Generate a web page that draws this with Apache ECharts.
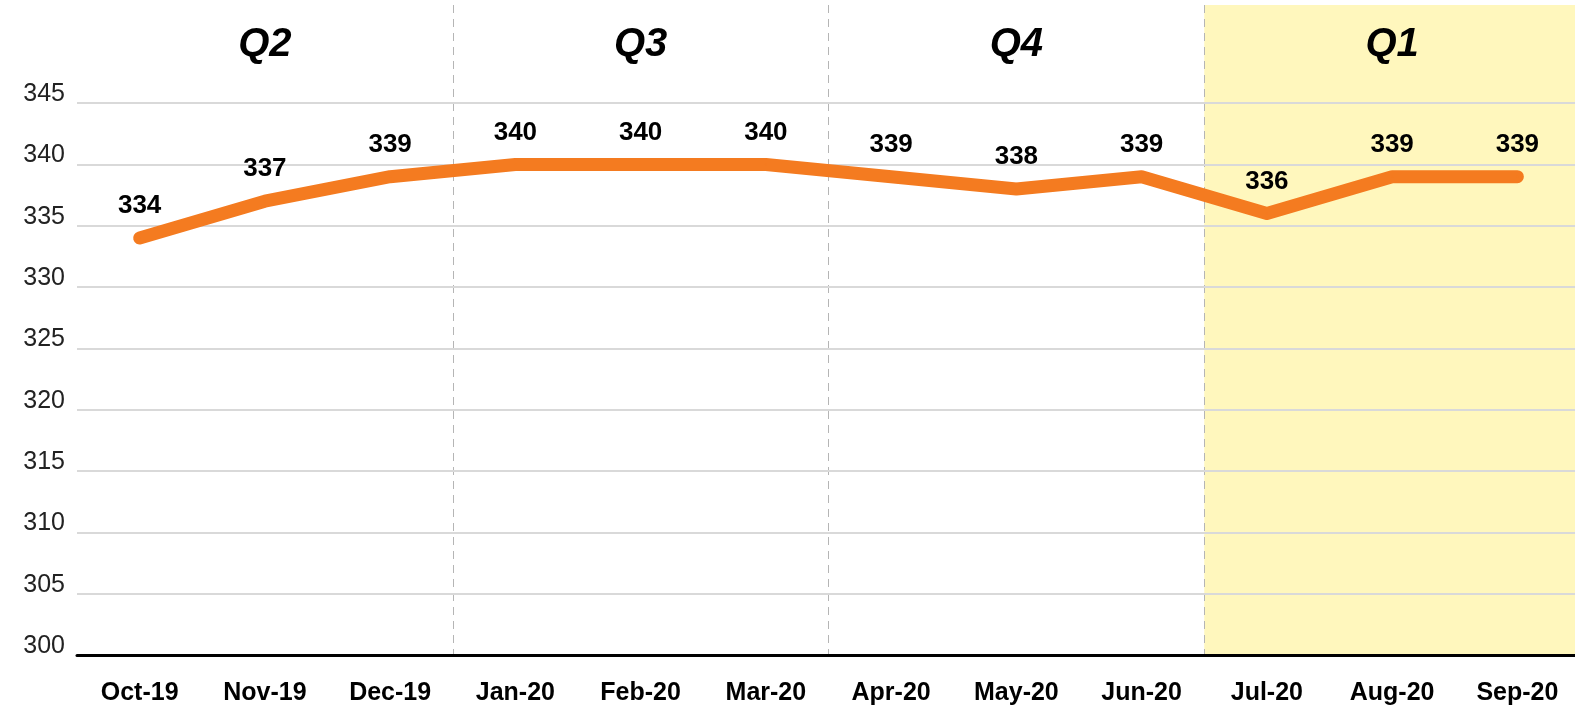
<!DOCTYPE html>
<html>
<head>
<meta charset="utf-8">
<style>
  html, body { margin: 0; padding: 0; background: #fff; }
  #chart { width: 1575px; height: 710px; }
</style>
<script src="https://cdn.jsdelivr.net/npm/echarts@6/dist/echarts.min.js"></script>
</head>
<body>
<div id="chart"></div>
<script>
// months on the bottom axis, quarters on the top band
const months = ['Oct-19', 'Nov-19', 'Dec-19', 'Jan-20', 'Feb-20', 'Mar-20',
                'Apr-20', 'May-20', 'Jun-20', 'Jul-20', 'Aug-20', 'Sep-20']
const values = [334, 337, 339, 340, 340, 340, 339, 338, 339, 336, 339, 339]
const quarters = ['Q2', 'Q3', 'Q4', 'Q1']

const SANS = "'Liberation Sans', Arial, sans-serif"
const ORANGE = '#f47b20'

// 300..350 get a tick each, plus the extent 353 on top -> hide the last two lines
const gridColors = []
for (let i = 0; i < 12; i++) gridColors.push(i < 10 ? '#d9d9d9' : 'rgba(0,0,0,0)')

const chart = echarts.init(document.getElementById('chart'))
chart.setOption({
  animation: false,
  backgroundColor: '#fff',
  // plot runs a few px past the right edge of the picture
  grid: {
    left: 77, width: 1503, top: 5, bottom: 55,
    containLabel: false, outerBoundsMode: 'none'
  },
  xAxis: [
    {
      type: 'category',
      data: months,
      boundaryGap: true,
      axisLine: { lineStyle: { color: '#000', width: 3 } },
      axisTick: { length: 12, lineStyle: { color: '#000', width: 3 } },
      axisLabel: {
        interval: 0, margin: 26, color: '#000',
        fontFamily: SANS, fontWeight: 'bold', fontSize: 25
      },
      splitLine: { show: false },
      z: 3
    },
    {
      // quarter band: labels, dashed separators, highlighted Q1
      type: 'category',
      data: quarters,
      position: 'top',
      boundaryGap: true,
      axisLine: { show: false },
      axisTick: { show: false },
      axisLabel: {
        inside: true, margin: 20, color: '#000',
        fontFamily: SANS, fontWeight: 'bold', fontStyle: 'italic', fontSize: 40
      },
      splitLine: {
        show: true, interval: 0,
        lineStyle: {
          type: [8, 6], width: 1,
          color: ['rgba(0,0,0,0)', '#b5b5b5', '#b5b5b5', '#b5b5b5', 'rgba(0,0,0,0)']
        }
      },
      splitArea: {
        show: true, interval: 0,
        areaStyle: { color: ['rgba(0,0,0,0)', 'rgba(0,0,0,0)', 'rgba(0,0,0,0)', '#fff7bd'] }
      },
      z: 0
    }
  ],
  yAxis: {
    type: 'value',
    min: 300,
    max: 353,
    interval: 5,
    axisLine: { show: false },
    axisTick: { show: false },
    axisLabel: {
      margin: 12, color: '#222', fontFamily: SANS, fontSize: 25,
      verticalAlign: 'bottom', lineHeight: 18,
      formatter: v => (v <= 345 ? String(v) : '')
    },
    splitLine: { lineStyle: { color: gridColors, width: 2 } },
    z: 2
  },
  series: [{
    type: 'line',
    data: values,
    symbol: 'circle',
    symbolSize: 2,
    showSymbol: true,
    itemStyle: { color: ORANGE },
    lineStyle: { color: ORANGE, width: 13, cap: 'round', join: 'round' },
    label: {
      show: true, position: 'top', distance: 18, color: '#000',
      fontFamily: SANS, fontWeight: 'bold', fontSize: 26
    },
    z: 5
  }]
})
</script>
</body>
</html>
